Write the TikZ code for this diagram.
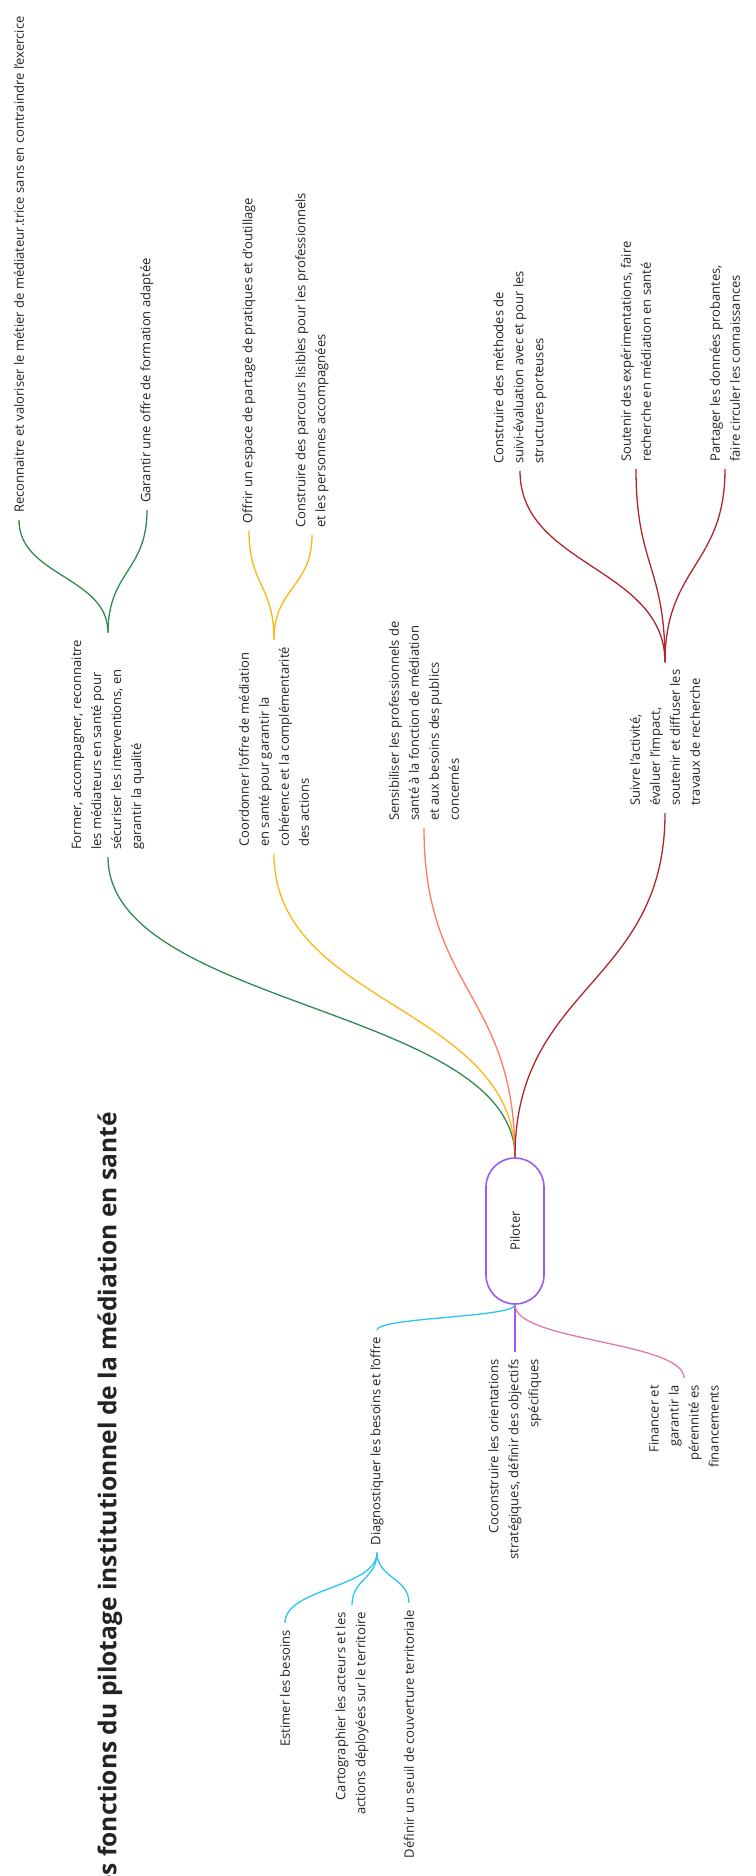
\documentclass[tikz,border=0pt]{standalone}
\usepackage{fontspec}
\setmainfont{Open Sans}
\usepackage{tikz}
\usetikzlibrary{calc}
\definecolor{encre}{RGB}{35,35,35}
\definecolor{cvert}{RGB}{46,139,80}
\definecolor{cjaune}{RGB}{255,182,20}
\definecolor{csaumon}{RGB}{255,125,95}
\definecolor{crouge}{RGB}{175,38,45}
\definecolor{cbleu}{RGB}{40,198,245}
\definecolor{cviolet}{RGB}{155,90,245}
\definecolor{crose}{RGB}{225,122,170}

\begin{document}
\begin{tikzpicture}[
        x=1pt, y=-1pt,
        font=\fontsize{13}{20}\selectfont,
        idee/.style={rotate=90, text=encre, inner xsep=7pt, inner ysep=0pt},
        droite/.style={idee, anchor=west, align=left},
        gauche/.style={idee, anchor=east, align=right},
        centre/.style={rotate=90, draw=cviolet, line width=1.6pt, rounded corners=29pt,
                       minimum width=146pt, minimum height=58pt, text=encre},
        lien/.style={line width=1.3pt, to path={let \p1=(\tikztostart), \p2=(\tikztotarget) in
            .. controls (\x1,{(\y1+\y2)/2}) and (\x2,{(\y1+\y2)/2}) .. (\tikztotarget)}}
    ]
        \useasboundingbox (0,0) rectangle (755,1876);
        \clip (0,0) rectangle (755,1876);

        \node[rotate=90, anchor=east, inner sep=0pt, text=encre,
              font=\fontsize{24.6}{28}\selectfont\bfseries] (titre) at (110,1112)
              {Les fonctions du pilotage institutionnel de la médiation en santé};

        \node[centre] (piloter) at (515,1231) {Piloter};

        % branches du haut
        \node[droite] (former) at (108,857) {Former, accompagner, reconnaitre\\les médiateurs en santé pour\\sécuriser les interventions, en\\garantir la qualité};
        \node[droite] (coord) at (274,854) {Coordonner l'offre de médiation\\en santé pour garantir la\\cohérence et la complémentarité\\des actions};
        \node[droite] (sensib) at (424,828) {Sensibiliser les professionnels de\\santé à la fonction de médiation\\et aux besoins des publics\\concernés};
        \node[droite] (suivre) at (665,813) {Suivre l'activité,\\évaluer l'impact,\\soutenir et diffuser les\\travaux de recherche};

        \node[droite] (reconn) at (19,520) {Reconnaitre et valoriser le métier de médiateur.trice sans en contraindre l'exercice};
        \node[droite] (garant) at (147,510) {Garantir une offre de formation adaptée};
        \node[droite] (offrir) at (249,531) {Offrir un espace de partage de pratiques et d'outillage};
        \node[droite] (parcours) at (312,535) {Construire des parcours lisibles pour les professionnels\\et les personnes accompagnées};
        \node[droite] (methodes) at (520,471) {Construire des méthodes de\\suivi-évaluation avec et pour les\\structures porteuses};
        \node[droite] (soutenir) at (636,469) {Soutenir des expérimentations, faire\\recherche en médiation en santé};
        \node[droite] (partager) at (725,469) {Partager les données probantes,\\faire circuler les connaissances};

        % branches du bas
        \node[gauche] (diag) at (377,1330) {Diagnostiquer les besoins et l'offre};
        \node[gauche] (cocon) at (515,1352) {Coconstruire les orientations\\stratégiques, définir des objectifs\\spécifiques};
        \node[gauche] (financer) at (684,1378) {Financer et\\garantir la\\pérennité es\\financements};
        \node[gauche] (estimer) at (285,1623) {Estimer les besoins};
        \node[gauche] (carto) at (352,1605) {Cartographier les acteurs et les\\actions déployées sur le territoire};
        \node[gauche] (seuil) at (409,1603) {Définir un seuil de couverture territoriale};

        \draw[lien, cvert] (piloter.east) to (former.west);
        \draw[lien, cjaune] (piloter.east) to (coord.west);
        \draw[lien, csaumon] (piloter.east) to (sensib.west);
        \draw[lien, crouge] (piloter.east) to (suivre.west);
        \draw[lien, cvert] (former.east) to (reconn.west);
        \draw[lien, cvert] (former.east) to (garant.west);
        \draw[lien, cjaune] (coord.east) to (offrir.west);
        \draw[lien, cjaune] (coord.east) to (parcours.west);
        \draw[lien, crouge] (suivre.east) to (methodes.west);
        \draw[lien, crouge] (suivre.east) to (soutenir.west);
        \draw[lien, crouge] (suivre.east) to (partager.west);

        \draw[lien, cbleu] (piloter.west) to (diag.east);
        \draw[lien, cviolet] (piloter.west) to (cocon.east);
        \draw[lien, crose] (piloter.west) to (financer.east);
        \draw[lien, cbleu] (diag.west) to (estimer.east);
        \draw[lien, cbleu] (diag.west) to (carto.east);
        \draw[lien, cbleu] (diag.west) to (seuil.east);
    \end{tikzpicture}
\end{document}
